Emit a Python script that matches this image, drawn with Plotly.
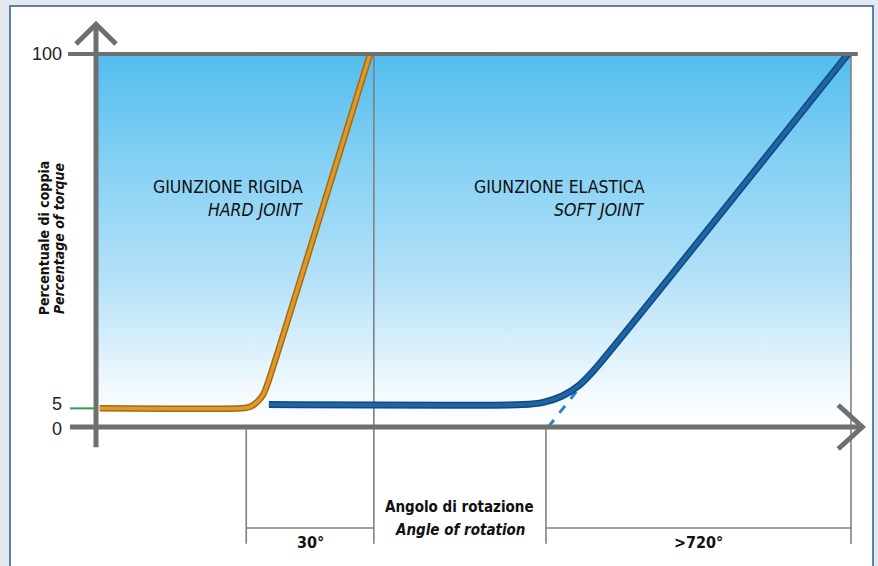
import plotly.graph_objects as go

# ---------------- data ----------------
# x: schematic rotation-angle units (0 = torque axis, 100 = end of soft joint)
# y: percentage of torque
hard_x = [0.5, 19.3, 20.4, 21.4, 22.2, 22.8, 36.3]
hard_y = [5, 5, 5.4, 6.8, 8.9, 12, 100]

soft_x = [22.9, 56.5, 59.25, 61.75, 64.0, 66.0, 99.6]
soft_y = [6, 6, 6.6, 8.3, 11.2, 15.3, 100]

soft_ext_x = [59.9, 63.6]
soft_ext_y = [0, 9.4]

tick_vals = [0, 5, 100]
tick_text = ["0", "5", "100"]
tick_nudge = [-2, 4, 0]          # small pixel nudges so "0" and "5" do not collide

marker_x = [19.9, 36.8, 59.6, 100]          # vertical guide lines
marker_top = [0, 100, 0, 100]
span_labels = ["30°", ">720°"]
span_pairs = [(19.9, 36.8), (59.6, 100)]

# ---------------- styling ----------------
W, H = 878, 566
X_RANGE = [-12.715, 103.576]
Y_RANGE = [-37.27, 114.48]
AX_GRAY = "#6f6f6f"
GUIDE_GRAY = "#808080"
NARROW = "Liberation Sans Narrow, DejaVu Sans Condensed, Arial Narrow, sans-serif"
REG = "Liberation Sans, Arial, sans-serif"
BG = "#e5e8ee"

fig = go.Figure()

# gradient background of the plot area
fig.add_trace(go.Scatter(
    x=[0, 100, 100, 0, 0], y=[0, 0, 100, 100, 0],
    mode="lines", fill="toself", line=dict(width=0),
    fillgradient=dict(type="vertical", start=0, stop=100,
                      colorscale=[[0, "#ffffff"], [0.1, "#f1f9fe"],
                                  [0.4, "#b3e1f8"], [0.75, "#7ecef3"],
                                  [1, "#52bdee"]]),
    hoverinfo="skip", showlegend=False))

# vertical guide lines and dimension lines (drawn under the curves)
dim_y = -27.1
guide_bottom = -31.3
for xv, top in zip(marker_x, marker_top):
    fig.add_trace(go.Scatter(x=[xv, xv], y=[guide_bottom, top], mode="lines",
                             line=dict(color=GUIDE_GRAY, width=1.6),
                             hoverinfo="skip", showlegend=False))
for (a, b) in span_pairs:
    fig.add_trace(go.Scatter(x=[a, b], y=[dim_y, dim_y], mode="lines",
                             line=dict(color=GUIDE_GRAY, width=1.6),
                             hoverinfo="skip", showlegend=False))

# dashed extension of the soft joint
fig.add_trace(go.Scatter(x=soft_ext_x, y=soft_ext_y, mode="lines",
                         line=dict(color="#1f86d6", width=3, dash="dash"),
                         hoverinfo="skip", showlegend=False))

# hard joint curve (orange, with darker edge)
fig.add_trace(go.Scatter(x=hard_x, y=hard_y, mode="lines",
                         line=dict(color="#a9690f", width=6.5, shape="spline", smoothing=0.6),
                         hoverinfo="skip", showlegend=False))
fig.add_trace(go.Scatter(x=hard_x, y=hard_y, mode="lines",
                         line=dict(color="#dc9a2c", width=3.5, shape="spline", smoothing=0.6),
                         hoverinfo="skip", showlegend=False))

# soft joint curve (blue, with darker edge)
fig.add_trace(go.Scatter(x=soft_x, y=soft_y, mode="lines",
                         line=dict(color="#124a7e", width=7, shape="spline", smoothing=0.6),
                         hoverinfo="skip", showlegend=False))
fig.add_trace(go.Scatter(x=soft_x, y=soft_y, mode="lines",
                         line=dict(color="#1d65a6", width=4, shape="spline", smoothing=0.6),
                         hoverinfo="skip", showlegend=False))

shapes = []
# white panel with dark blue border
shapes.append(dict(type="rect", xref="paper", yref="paper",
                   x0=10 / W, x1=873 / W, y0=-0.05, y1=1 - 6 / H,
                   fillcolor="white", line=dict(color="#2b5a98", width=1.5),
                   layer="below"))
# y axis with arrow
shapes.append(dict(type="line", x0=0, x1=0, y0=-5.4, y1=107.6,
                   line=dict(color=AX_GRAY, width=5)))
shapes.append(dict(type="path", path="M -2.65,102.7 L 0,108.0 L 2.65,102.7",
                   line=dict(color=AX_GRAY, width=5)))
# x axis with arrow
shapes.append(dict(type="line", x0=-3.44, x1=101.2, y0=0, y1=0,
                   line=dict(color=AX_GRAY, width=5)))
shapes.append(dict(type="path", path="M 98.3,5.9 L 101.5,0 L 98.3,-5.9",
                   line=dict(color=AX_GRAY, width=5)))
# 100 % line
shapes.append(dict(type="line", x0=-3.7, x1=100.9, y0=100, y1=100,
                   line=dict(color=AX_GRAY, width=4)))
# 5 % tick (green)
shapes.append(dict(type="line", x0=-3.44, x1=0, y0=5, y1=5,
                   line=dict(color="#2e9e5a", width=2)))

annotations = []
for v, t, dy in zip(tick_vals, tick_text, tick_nudge):
    annotations.append(dict(x=-4.2, y=v, text=t, showarrow=False, yshift=dy,
                            xanchor="right", yanchor="middle",
                            font=dict(family=REG, size=18, color="#222222")))

TXT = "#111111"
# joint labels
annotations += [
    dict(x=27.7, y=64.3, text="GIUNZIONE RIGIDA", showarrow=False, xanchor="right",
         yanchor="middle", font=dict(family=NARROW, size=17.5, color=TXT)),
    dict(x=27.7, y=58.2, text="<i>HARD JOINT</i>", showarrow=False, xanchor="right",
         yanchor="middle", font=dict(family=NARROW, size=17.5, color=TXT)),
    dict(x=73.0, y=64.3, text="GIUNZIONE ELASTICA", showarrow=False, xanchor="right",
         yanchor="middle", font=dict(family=NARROW, size=17.5, color=TXT)),
    dict(x=73.0, y=58.2, text="<i>SOFT JOINT</i>", showarrow=False, xanchor="right",
         yanchor="middle", font=dict(family=NARROW, size=17.5, color=TXT)),
]

# axis titles
annotations += [
    dict(x=48.2, y=-21.4, text="<b>Angolo di rotazione</b>", showarrow=False,
         xanchor="center", yanchor="middle",
         font=dict(family=NARROW, size=15, color=TXT)),
    dict(x=48.2, y=-27.6, text="<b><i>Angle of rotation</i></b>", showarrow=False,
         xanchor="center", yanchor="middle",
         font=dict(family=NARROW, size=15, color=TXT)),
    dict(x=-6.95, y=50.5, text="<b>Percentuale di coppia</b>", showarrow=False,
         textangle=-90, xanchor="center", yanchor="middle",
         font=dict(family=NARROW, size=14, color=TXT)),
    dict(x=-5.0, y=50.5, text="<b><i>Percentage of torque</i></b>", showarrow=False,
         textangle=-90, xanchor="center", yanchor="middle",
         font=dict(family=NARROW, size=14, color=TXT)),
]

# span labels
for lab, (a, b) in zip(span_labels, span_pairs):
    annotations.append(dict(x=(a + b) / 2, y=-30.9, text="<b>" + lab + "</b>",
                            showarrow=False, xanchor="center", yanchor="middle",
                            font=dict(family=NARROW, size=16, color=TXT)))

fig.update_layout(
    width=W, height=H, autosize=False,
    margin=dict(l=0, r=0, t=0, b=0),
    paper_bgcolor=BG, plot_bgcolor="rgba(0,0,0,0)",
    xaxis=dict(range=X_RANGE, visible=False, fixedrange=True),
    yaxis=dict(range=Y_RANGE, visible=False, fixedrange=True),
    shapes=shapes, annotations=annotations, showlegend=False,
)

fig.write_html(
    "out.html",
    config={"displayModeBar": False},
    post_script="document.body.style.margin='0px';"
                "document.body.style.overflow='hidden';"
                "document.body.style.background='" + BG + "';",
)
